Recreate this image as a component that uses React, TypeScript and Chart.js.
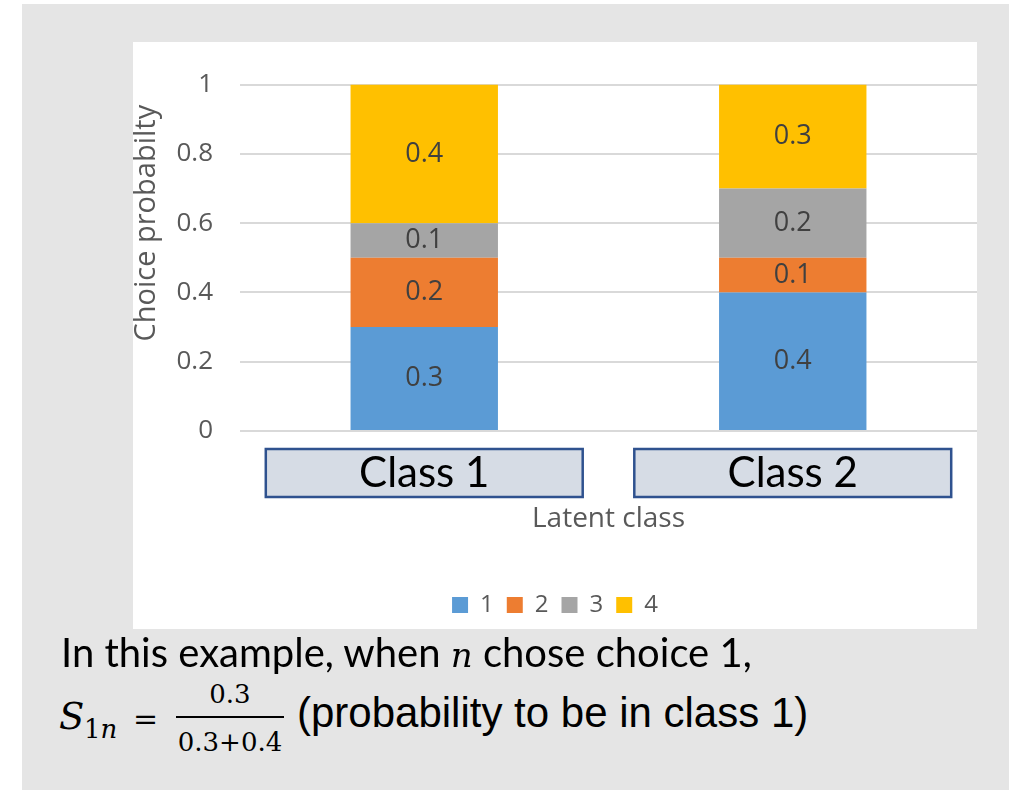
import React, { useEffect, useRef } from "react";
import { Chart, registerables } from "chart.js";

Chart.register(...registerables);

// ---- data ----
const categories = ["Class 1", "Class 2"];
const seriesNames = ["1", "2", "3", "4"];
const choice1 = [0.3, 0.4];
const choice2 = [0.2, 0.1];
const choice3 = [0.1, 0.2];
const choice4 = [0.4, 0.3];
const yTickValues = [0, 0.2, 0.4, 0.6, 0.8, 1];
const yTitle = "Choice probabilty";
const xTitle = "Latent class";

const seriesColors = ["#5B9BD5", "#ED7D31", "#A5A5A5", "#FFC000"];
const SANS = "'Open Sans', 'Noto Sans', sans-serif";
const CAL = "Lato, 'Open Sans', sans-serif";

const classBoxPlugin = {
  id: "classBoxes",
  beforeDraw(chart: any) {
    const xs = chart.scales.x;
    const ctx = chart.ctx;
    const step = xs.width / categories.length;
    const w = step * 0.86;
    const top = xs.top + 18;
    const h = 48;
    ctx.save();
    categories.forEach((_, i) => {
      const cx = xs.getPixelForTick(i);
      ctx.fillStyle = "#D6DCE5";
      ctx.fillRect(cx - w / 2, top, w, h);
      ctx.strokeStyle = "#2F528F";
      ctx.lineWidth = 2.5;
      ctx.strokeRect(cx - w / 2, top, w, h);
    });
    ctx.restore();
  },
};

const labelPlugin = {
  id: "segmentLabels",
  afterDatasetsDraw(chart: any) {
    const ctx = chart.ctx;
    ctx.save();
    ctx.font = `27px ${SANS}`;
    ctx.fillStyle = "#404040";
    ctx.textAlign = "center";
    ctx.textBaseline = "middle";
    chart.data.datasets.forEach((ds: any, di: number) => {
      const meta = chart.getDatasetMeta(di);
      meta.data.forEach((bar: any, i: number) => {
        const v = ds.data[i];
        ctx.fillText(String(v), bar.x, (bar.y + bar.base) / 2);
      });
    });
    ctx.restore();
  },
};

const yTitlePlugin = {
  id: "yTitle",
  afterDraw(chart: any) {
    const ctx = chart.ctx;
    const a = chart.chartArea;
    ctx.save();
    ctx.translate(14, a.top + (a.bottom - a.top) * 0.4);
    ctx.rotate(-Math.PI / 2);
    ctx.font = `29px ${SANS}`;
    ctx.fillStyle = "#595959";
    ctx.textAlign = "center";
    ctx.textBaseline = "middle";
    ctx.fillText(yTitle, 0, 0);
    ctx.restore();
  },
};

function ChartBox() {
  const ref = useRef<HTMLCanvasElement | null>(null);
  useEffect(() => {
    if (!ref.current) return;
    const series = [choice1, choice2, choice3, choice4];
    const chart = new Chart(ref.current, {
      type: "bar",
      data: {
        labels: categories,
        datasets: series.map((d, i) => ({
          label: seriesNames[i],
          data: d,
          backgroundColor: seriesColors[i],
          borderWidth: 0,
          barPercentage: 0.4,
          categoryPercentage: 1,
        })),
      },
      options: {
        responsive: false,
        animation: false,
        layout: { padding: { top: 42, right: 0, left: 0, bottom: 2 } },
        plugins: {
          tooltip: { enabled: false },
          legend: {
            position: "bottom",
            labels: {
              boxWidth: 16,
              boxHeight: 16,
              padding: 13,
              color: "#595959",
              font: { family: SANS, size: 24 },
            },
          },
        },
        scales: {
          x: {
            stacked: true,
            afterFit: (s: any) => {
              s.height = 149;
            },
            grid: { display: false, drawTicks: false },
            border: { display: false },
            ticks: {
              color: "#000000",
              padding: 17,
              font: { family: CAL, size: 42 },
            },
            title: {
              display: true,
              text: xTitle,
              color: "#595959",
              font: { family: SANS, size: 28 },
              padding: { top: 2, bottom: 44 },
            },
          },
          y: {
            stacked: true,
            min: 0,
            max: 1,
            afterFit: (s: any) => {
              s.width = 107;
            },
            afterBuildTicks: (s: any) => {
              s.ticks = yTickValues.map((v) => ({ value: v }));
            },
            grid: { color: "#D9D9D9", lineWidth: 2, drawTicks: false },
            border: { display: false },
            ticks: {
              color: "#595959",
              padding: 27,
              font: { family: SANS, size: 26 },
              callback: (v: any) => String(v),
            },
          },
        },
      },
      plugins: [classBoxPlugin, labelPlugin, yTitlePlugin],
    });
    return () => chart.destroy();
  }, []);
  return <canvas ref={ref} width={844} height={587} style={{ display: "block" }} />;
}

function Txt(props: {
  x: number;
  base: number;
  size: number;
  family: string;
  k: number;
  italic?: boolean;
  center?: boolean;
  children: React.ReactNode;
}) {
  const { x, base, size, family, k, italic, center, children } = props;
  const top = base - k * size;
  const style: React.CSSProperties = {
    position: "absolute",
    top,
    left: center ? x - 150 : x,
    width: center ? 300 : undefined,
    textAlign: center ? "center" : "left",
    fontFamily: family,
    fontSize: size,
    lineHeight: 1,
    fontStyle: italic ? "italic" : "normal",
    whiteSpace: "nowrap",
    color: "#000",
  };
  return <div style={style}>{children}</div>;
}

const DJS = "'DejaVu Serif', serif";
const LIBS = "'Liberation Sans', Arial, sans-serif";
const K_LATO = 0.887;
const K_DJS = 0.846;
const K_LIBS = 0.8465;

export default function App() {
  return (
    <div>
      <div
        style={{
          position: "absolute",
          left: 22,
          top: 4,
          width: 987,
          height: 786,
          background: "#E5E5E5",
        }}
      />
      <div
        style={{
          position: "absolute",
          left: 133,
          top: 42,
          width: 844,
          height: 587,
          background: "#FFFFFF",
        }}
      >
        <ChartBox />
      </div>
      <Txt x={61} base={667} size={40} family={CAL} k={K_LATO}>
        In this example, when{" "}
        <span style={{ fontFamily: DJS, fontStyle: "italic", fontSize: 34 }}>n</span> chose choice 1,
      </Txt>
      <Txt x={59} base={729} size={37} family={DJS} k={K_DJS} italic>
        S
      </Txt>
      <Txt x={84} base={738} size={26} family={DJS} k={K_DJS}>
        1<span style={{ fontStyle: "italic" }}>n</span>
      </Txt>
      <Txt x={133} base={729} size={30} family={DJS} k={K_DJS}>
        =
      </Txt>
      <Txt x={230} base={703} size={26} family={DJS} k={K_DJS} center>
        0.3
      </Txt>
      <div
        style={{
          position: "absolute",
          left: 176,
          top: 715.5,
          width: 108,
          height: 2.5,
          background: "#000",
        }}
      />
      <Txt x={230} base={751} size={26} family={DJS} k={K_DJS} center>
        0.3+0.4
      </Txt>
      <Txt x={297} base={728} size={42} family={LIBS} k={K_LIBS}>
        (probability to be in class 1)
      </Txt>
    </div>
  );
}
